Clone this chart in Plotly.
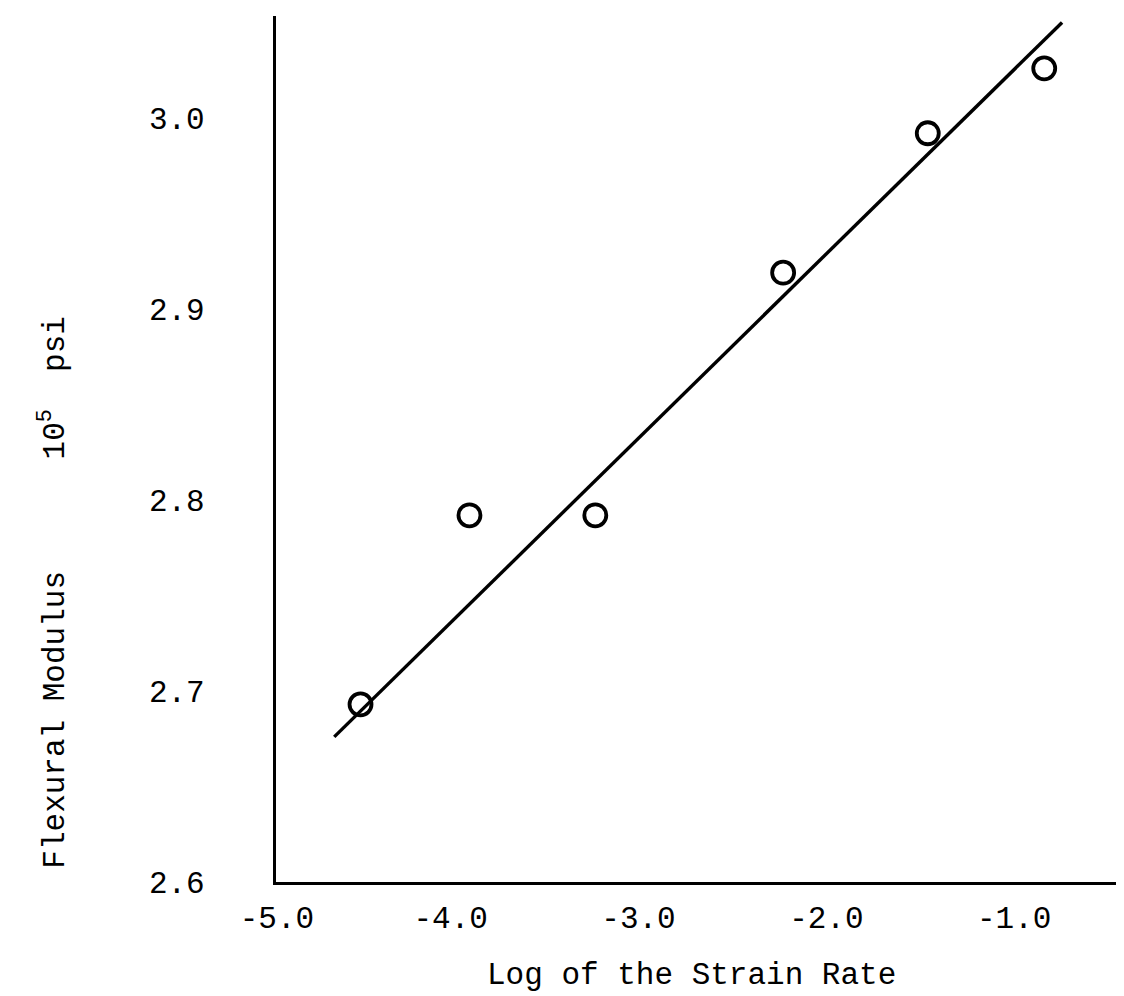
import plotly.graph_objects as go

# Data
log_strain_rate = [-4.48, -3.90, -3.23, -2.23, -1.46, -0.84]
flexural_modulus = [2.693, 2.792, 2.792, 2.919, 2.992, 3.026]

# Fitted straight line (end points)
fit_x = [-4.62, -0.745]
fit_y = [2.676, 3.050]

x_tick_vals = [-4.925, -4.0, -3.0, -2.0, -1.0]
x_tick_text = ["-5.0", "-4.0", "-3.0", "-2.0", "-1.0"]
y_tick_vals = [2.6, 2.7, 2.8, 2.9, 3.0]
y_tick_text = ["2.6", "2.7", "2.8", "2.9", "3.0"]

FONT = "Liberation Mono, Courier New, monospace"

fig = go.Figure()
fig.add_trace(go.Scatter(
    x=fit_x, y=fit_y, mode="lines",
    line=dict(color="black", width=3.4),
    showlegend=False, hoverinfo="skip",
))
fig.add_trace(go.Scatter(
    x=log_strain_rate, y=flexural_modulus, mode="markers",
    marker=dict(symbol="circle-open", size=22, color="black",
                line=dict(color="black", width=3.8)),
    showlegend=False,
))

fig.update_layout(
    width=1124, height=996,
    margin=dict(l=268, r=4, t=8, b=122),
    paper_bgcolor="white", plot_bgcolor="white",
    font=dict(family=FONT, size=31, color="black"),
    xaxis=dict(
        range=[-4.93, -0.394], showgrid=False, zeroline=False,
        showline=True, linecolor="black", linewidth=3.2,
        tickmode="array", tickvals=x_tick_vals, ticktext=x_tick_text,
        ticks="", ticklabelstandoff=6,
        tickfont=dict(family=FONT, size=31),
    ),
    yaxis=dict(
        range=[2.6, 3.0534], showgrid=False, zeroline=False,
        showline=True, linecolor="black", linewidth=3.2,
        tickmode="array", tickvals=y_tick_vals, ticktext=y_tick_text,
        ticks="", ticklabelstandoff=62,
        tickfont=dict(family=FONT, size=31),
    ),
    annotations=[
        dict(text="Log of the Strain Rate", xref="paper", yref="paper",
             x=0.488, y=-0.1085, showarrow=False,
             font=dict(family=FONT, size=31), xanchor="center", yanchor="middle"),
        dict(text="Flexural Modulus&nbsp;&nbsp;&nbsp;&nbsp;&nbsp;&nbsp;10<sup>5</sup>&nbsp;&nbsp;psi",
             xref="paper", yref="paper", x=-0.262, y=0.335, textangle=-90,
             showarrow=False, font=dict(family=FONT, size=31),
             xanchor="center", yanchor="middle"),
    ],
)

fig.write_html("out.html")
